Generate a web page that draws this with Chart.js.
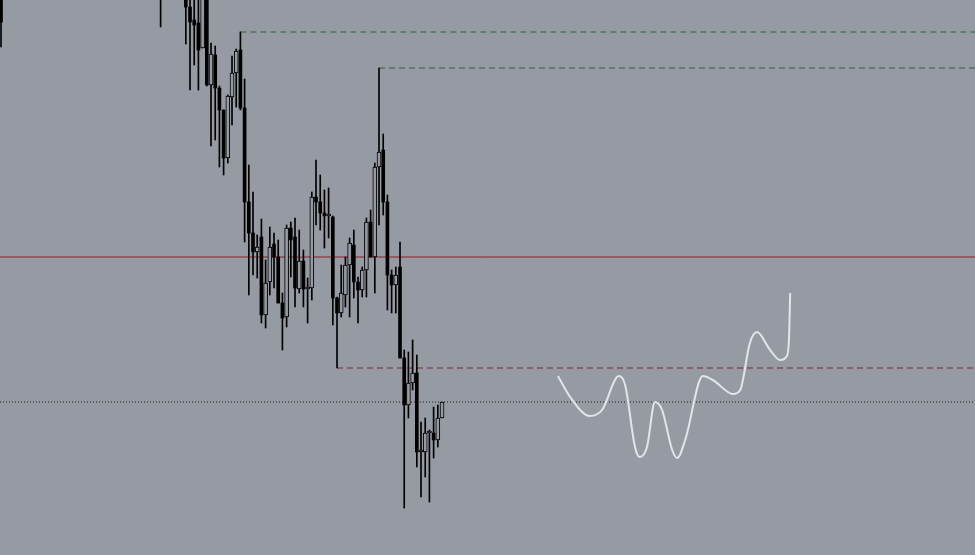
<!DOCTYPE html>
<html>
<head>
<meta charset="utf-8">
<style>
  html, body { margin: 0; padding: 0; background: #969aa3; }
  #wrap { width: 975px; height: 555px; }
  canvas { display: block; }
</style>
<script src="https://cdn.jsdelivr.net/npm/chart.js@4.4.1/dist/chart.umd.min.js"></script>
</head>
<body>
<div id="wrap"><canvas id="chart" width="975" height="555"></canvas></div>
<script>
/* ---------- candles (bar index, OHLC) ---------- */
const barIndex = [0, 38, 44, 45, 46, 47, 48, 49, 50, 51, 52, 53, 54, 55, 56, 57, 58, 59, 60, 61,
  62, 63, 64, 65, 66, 67, 68, 69, 70, 71, 72, 73, 74, 75, 76, 77, 78, 79, 80, 81, 82, 83, 84, 85,
  86, 87, 88, 89, 90, 91, 92, 93, 94, 95, 96, 97, 98, 99, 100, 101, 102, 103, 104, 105];

const openPrices = [1.2010, 1.2030, 1.2005, 1.1993, 1.1980, 1.1977, 1.1952, 1.2010, 1.1915, 1.1945,
  1.1912, 1.1890, 1.1842, 1.1903, 1.1927, 1.1950, 1.1892, 1.1798, 1.1767, 1.1748, 1.1763, 1.1685,
  1.1718, 1.1756, 1.1743, 1.1697, 1.1683, 1.1772, 1.1763, 1.1711, 1.1739, 1.1711, 1.1712, 1.1803,
  1.1798, 1.1787, 1.1784, 1.1783, 1.1702, 1.1687, 1.1705, 1.1735, 1.1755, 1.1718, 1.1710, 1.1730,
  1.1778, 1.1743, 1.1833, 1.1850, 1.1798, 1.1725, 1.1715, 1.1733, 1.1642, 1.1595, 1.1617, 1.1627,
  1.1548, 1.1548, 1.1567, 1.1567, 1.1560, 1.1582];

const highPrices = [1.2020, 1.2040, 1.2010, 1.2003, 1.2002, 1.2002, 1.2008, 1.2015, 1.1957, 1.1954,
  1.1914, 1.1890, 1.1905, 1.1944, 1.1951, 1.1968, 1.1921, 1.1835, 1.1808, 1.1765, 1.1781, 1.1740,
  1.1773, 1.1767, 1.1760, 1.1707, 1.1775, 1.1778, 1.1782, 1.1770, 1.1750, 1.1722, 1.1808, 1.1840,
  1.1825, 1.1810, 1.1812, 1.1784, 1.1703, 1.1735, 1.1743, 1.1762, 1.1770, 1.1723, 1.1733, 1.1782,
  1.1790, 1.1837, 1.1932, 1.1866, 1.1805, 1.1730, 1.1733, 1.1758, 1.1650, 1.1648, 1.1660, 1.1645,
  1.1578, 1.1582, 1.1570, 1.1593, 1.1595, 1.1598];

const lowPrices = [1.1953, 1.1973, 1.1956, 1.1910, 1.1935, 1.1910, 1.1952, 1.1914, 1.1854, 1.1860,
  1.1833, 1.1825, 1.1837, 1.1875, 1.1893, 1.1890, 1.1758, 1.1705, 1.1725, 1.1722, 1.1677, 1.1672,
  1.1705, 1.1712, 1.1697, 1.1650, 1.1673, 1.1723, 1.1693, 1.1707, 1.1693, 1.1677, 1.1700, 1.1775,
  1.1770, 1.1752, 1.1762, 1.1675, 1.1632, 1.1683, 1.1693, 1.1683, 1.1702, 1.1677, 1.1703, 1.1703,
  1.1743, 1.1707, 1.1775, 1.1785, 1.1690, 1.1687, 1.1687, 1.1642, 1.1492, 1.1582, 1.1610, 1.1533,
  1.1503, 1.1523, 1.1498, 1.1542, 1.1553, 1.1582];

const closePrices = [1.1978, 1.2015, 1.1993, 1.1978, 1.1975, 1.1950, 1.2003, 1.1915, 1.1946, 1.1912,
  1.1890, 1.1842, 1.1904, 1.1927, 1.1949, 1.1892, 1.1798, 1.1767, 1.1748, 1.1753, 1.1685, 1.1717,
  1.1753, 1.1743, 1.1697, 1.1682, 1.1772, 1.1760, 1.1712, 1.1739, 1.1711, 1.1713, 1.1803, 1.1798,
  1.1787, 1.1784, 1.1785, 1.1702, 1.1687, 1.1707, 1.1735, 1.1757, 1.1718, 1.1710, 1.1730, 1.1778,
  1.1743, 1.1833, 1.1848, 1.1798, 1.1725, 1.1715, 1.1725, 1.1642, 1.1595, 1.1617, 1.1627, 1.1548,
  1.1550, 1.1567, 1.1569, 1.1560, 1.1582, 1.1598];

/* ---------- horizontal levels ---------- */
const levelNames  = ['resistance 1', 'resistance 2', 'pivot', 'support', 'bid'];
const levelPrices = [1.1968, 1.1932, 1.1743, 1.1632, 1.1598];
const levelStarts = [57, 90, 0, 80, 0];

/* ---------- hand-drawn projection ---------- */
const sketchX = [132.6, 135.5, 140.2, 143.1, 147.1, 148.6, 151.0, 152.1, 153.8, 155.7, 157.4, 159.8,
  161.0, 162.9, 167.1, 169.5, 174.3, 176.0, 178.3, 180.0, 183.1, 185.5, 187.1, 187.6, 187.9];
const sketchPrice = [1.1624, 1.1603, 1.1584, 1.1590, 1.1624, 1.1615, 1.1552, 1.1543, 1.1553, 1.1598,
  1.1590, 1.1550, 1.1542, 1.1560, 1.1624, 1.1620, 1.1606, 1.1610, 1.1657, 1.1668, 1.1650, 1.1640,
  1.1644, 1.1660, 1.1707];

const X_MIN = -0.24, X_MAX = 231.9;
const Y_MIN = 1.1445, Y_MAX = 1.2000;

const filled = [], hollow = [], wicks = [];
barIndex.forEach((x, i) => {
  const o = openPrices[i], c = closePrices[i];
  wicks.push({ x, y: [lowPrices[i], highPrices[i]] });
  (c < o ? filled : hollow).push({ x, y: [o, c] });
});

const levelColors = ['#2e6138', '#2e6138', '#8e1f26', '#7a2438', '#1c1c1c'];
const levelDash = [[6, 4], [6, 4], [], [6, 4], [1, 2]];
const levelSets = levelPrices.map((p, i) => ({
  type: 'line',
  label: levelNames[i],
  data: [{ x: levelStarts[i] === 0 ? X_MIN : levelStarts[i], y: p }, { x: X_MAX, y: p }],
  borderColor: levelColors[i],
  borderWidth: 1,
  borderDash: levelDash[i],
  pointRadius: 0,
  order: 5
}));

new Chart(document.getElementById('chart'), {
  type: 'bar',
  data: {
    datasets: [
      {
        label: 'bodies down',
        data: filled,
        backgroundColor: '#000000',
        borderColor: '#000000',
        borderWidth: 0,
        barThickness: 3,
        minBarLength: 1,
        grouped: false,
        order: 1
      },
      {
        label: 'bodies up',
        data: hollow,
        backgroundColor: '#969aa3',
        borderColor: '#000000',
        borderWidth: 1,
        borderSkipped: false,
        barThickness: 4,
        minBarLength: 2,
        grouped: false,
        order: 1
      },
      {
        label: 'wicks',
        data: wicks,
        backgroundColor: '#000000',
        borderWidth: 0,
        barThickness: 1,
        grouped: false,
        order: 2
      },
      ...levelSets,
      {
        type: 'line',
        label: 'projection',
        data: sketchX.map((x, i) => ({ x, y: sketchPrice[i] })),
        borderColor: '#e4e5ea',
        borderWidth: 2,
        pointRadius: 0,
        cubicInterpolationMode: 'monotone',
        order: 3
      }
    ]
  },
  options: {
    responsive: false,
    animation: false,
    layout: { padding: 0 },
    plugins: { legend: { display: false }, tooltip: { enabled: false } },
    scales: {
      x: { type: 'linear', min: X_MIN, max: X_MAX, offset: false, display: false },
      y: { min: Y_MIN, max: Y_MAX, display: false }
    }
  }
});
</script>
</body>
</html>
